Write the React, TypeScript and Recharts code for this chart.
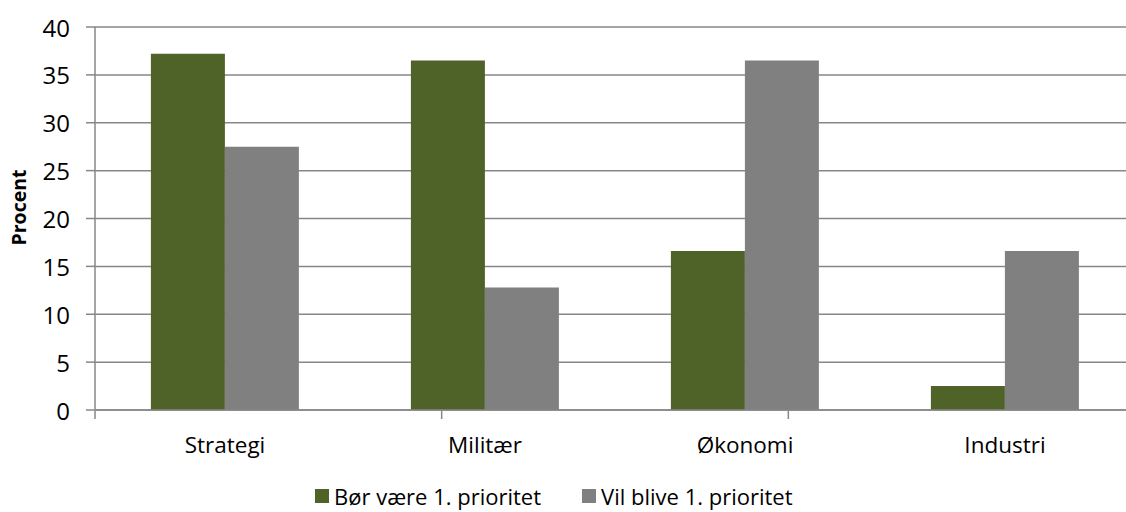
import { BarChart, Bar, XAxis, YAxis, CartesianGrid, Label } from "recharts";

const categories = ["Strategi", "Militær", "Økonomi", "Industri"];
const shouldBeFirst = [37.2, 36.5, 16.6, 2.5];
const willBeFirst = [27.5, 12.8, 36.5, 16.6];
const yTicks = [0, 5, 10, 15, 20, 25, 30, 35, 40];
const boundaryTicks = [0, 1, 2, 3, 4];

const seriesNames = ["Bør være 1. prioritet", "Vil blive 1. prioritet"];
const colors = ["#4F6228", "#808080"];

const data = categories.map((c, i) => ({
  name: c,
  a: shouldBeFirst[i],
  b: willBeFirst[i],
}));

const FONT = "'Open Sans', sans-serif";
const AXIS = "#878787";

const XTick = ({ x, y, payload }: any) => (
  <text x={x} y={y + 17} textAnchor="middle" fontFamily={FONT} fontSize={22.5} fill="#000">
    {payload.value}
  </text>
);

const YTick = ({ x, y, payload }: any) => (
  <text x={x} y={y} textAnchor="end" dominantBaseline="central" fontFamily={FONT} fontSize={24} fill="#000">
    {payload.value}
  </text>
);

export default function App() {
  return (
    <div style={{ position: "absolute", left: 0, top: 0, width: 1126, height: 512, overflow: "hidden", background: "#fff" }}>
      <BarChart
        width={1140}
        height={512}
        data={data}
        margin={{ top: 27, right: 5, left: 0, bottom: 100 }}
        barCategoryGap="21.5%"
        barGap={0}
      >
        <CartesianGrid vertical={false} stroke={AXIS} strokeWidth={1.5} />
        <XAxis
          dataKey="name"
          height={1}
          tickLine={false}
          tickSize={0}
          tickMargin={26}
          interval={0}
          axisLine={{ stroke: AXIS, strokeWidth: 1.5 }}
          tick={XTick}
        />
        {/* ticks on the category boundaries, like the source */}
        <XAxis
          xAxisId="bounds"
          type="number"
          domain={[0, 4]}
          allowDataOverflow
          ticks={boundaryTicks}
          interval={0}
          height={1}
          tick={() => <g />}
          axisLine={false}
          tickLine={{ stroke: AXIS, strokeWidth: 1.5 }}
          tickSize={8}
        />
        <YAxis
          width={95}
          domain={[0, 40]}
          ticks={yTicks}
          interval={0}
          tickSize={9}
          tickMargin={16}
          axisLine={{ stroke: AXIS, strokeWidth: 1.5 }}
          tickLine={{ stroke: AXIS, strokeWidth: 1.5 }}
          tick={YTick}
        >
          <Label
            content={({ viewBox }: any) => {
              const cx = viewBox.x + 18;
              const cy = viewBox.y + viewBox.height / 2 - 11;
              return (
                <text
                  x={cx}
                  y={cy}
                  transform={`rotate(-90 ${cx} ${cy})`}
                  textAnchor="middle"
                  dominantBaseline="central"
                  fontFamily={FONT}
                  fontSize={19.5}
                  fontWeight={700}
                  fill="#000"
                >
                  Procent
                </text>
              );
            }}
          />
        </YAxis>
        <Bar dataKey="a" name={seriesNames[0]} fill={colors[0]} isAnimationActive={false} />
        <Bar dataKey="b" name={seriesNames[1]} fill={colors[1]} isAnimationActive={false} />
      </BarChart>
      <div
        style={{
          position: "absolute",
          left: 315,
          top: 481,
          display: "flex",
          gap: 41,
          fontFamily: FONT,
          fontSize: 22,
          color: "#000",
          whiteSpace: "nowrap",
        }}
      >
        {seriesNames.map((n, i) => (
          <div key={n} style={{ display: "flex", alignItems: "center" }}>
            <span style={{ display: "inline-block", width: 14, height: 14, background: colors[i], marginRight: 5 }} />
            <span>{n}</span>
          </div>
        ))}
      </div>
    </div>
  );
}
